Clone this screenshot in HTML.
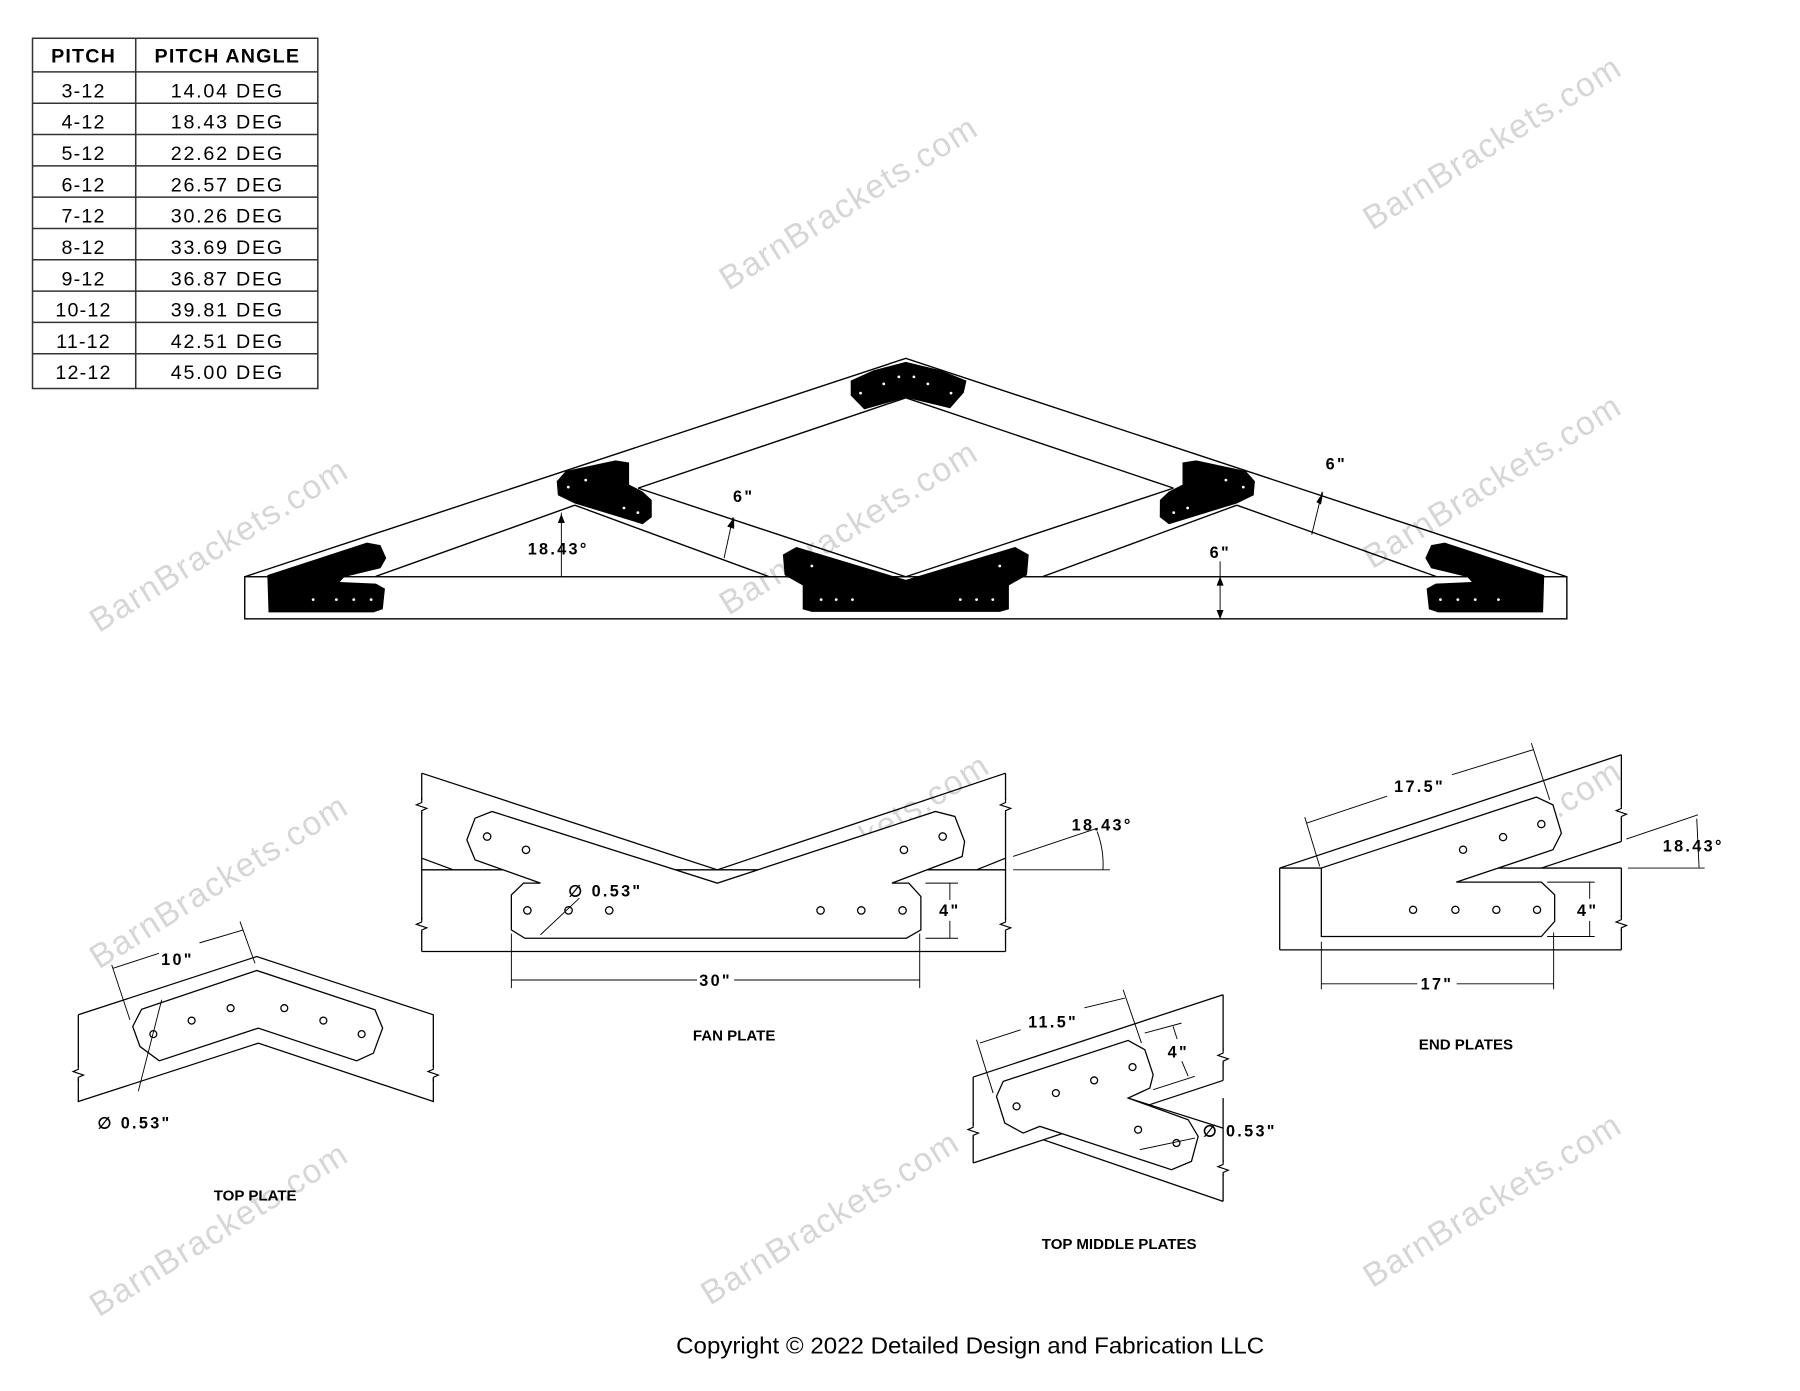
<!DOCTYPE html>
<html><head><meta charset="utf-8"><style>
html,body{margin:0;padding:0;background:#fff;}
svg{display:block;}
text{font-family:"Liberation Sans",sans-serif;}
.t{font-size:17px;}
.wm{font-size:29px;fill:#d6d6d6;}
.lbl{font-size:13px;font-weight:bold;}
.dim{font-size:14px;font-weight:bold;letter-spacing:2px;}
</style></head><body>
<svg width="1800" height="1391" viewBox="0 0 1552 1199.4" xmlns="http://www.w3.org/2000/svg">
<rect width="1552" height="1200" fill="#fff"/>
<!-- watermarks -->
<g class="wm" text-anchor="middle">
<text x="731" y="185" transform="rotate(-32 731 175)" textLength="255">BarnBrackets.com</text>
<text x="1286" y="133" transform="rotate(-32 1286 123)" textLength="255">BarnBrackets.com</text>
<text x="188" y="480" transform="rotate(-32 188 470)" textLength="255">BarnBrackets.com</text>
<text x="731" y="465" transform="rotate(-32 731 455)" textLength="255">BarnBrackets.com</text>
<text x="1286" y="425" transform="rotate(-32 1286 415)" textLength="255">BarnBrackets.com</text>
<text x="188" y="770" transform="rotate(-32 188 760)" textLength="255">BarnBrackets.com</text>
<text x="741" y="735" transform="rotate(-32 741 725)" textLength="255">BarnBrackets.com</text>
<text x="1286" y="740" transform="rotate(-32 1286 730)" textLength="255">BarnBrackets.com</text>
<text x="188" y="1070" transform="rotate(-32 188 1060)" textLength="255">BarnBrackets.com</text>
<text x="715" y="1060" transform="rotate(-32 715 1050)" textLength="255">BarnBrackets.com</text>
<text x="1286" y="1045" transform="rotate(-32 1286 1035)" textLength="255">BarnBrackets.com</text>
</g>

<!-- table -->
<g stroke="#333" stroke-width="1.3" fill="none">
<rect x="28" y="33" width="246" height="302"/>
<line x1="117" y1="33" x2="117" y2="335"/>
<line x1="28" y1="62" x2="274" y2="62"/>
<line x1="28" y1="89" x2="274" y2="89"/>
<line x1="28" y1="116" x2="274" y2="116"/>
<line x1="28" y1="143" x2="274" y2="143"/>
<line x1="28" y1="170" x2="274" y2="170"/>
<line x1="28" y1="197" x2="274" y2="197"/>
<line x1="28" y1="224" x2="274" y2="224"/>
<line x1="28" y1="251" x2="274" y2="251"/>
<line x1="28" y1="278" x2="274" y2="278"/>
<line x1="28" y1="305" x2="274" y2="305"/>
</g>
<g class="t" text-anchor="middle">
<text x="72" y="54" font-weight="bold" letter-spacing="1">PITCH</text>
<text x="196" y="54" font-weight="bold" letter-spacing="1">PITCH ANGLE</text>
<text x="72" y="84" letter-spacing="1">3-12</text><text x="196" y="84" letter-spacing="1.5">14.04 DEG</text>
<text x="72" y="111" letter-spacing="1">4-12</text><text x="196" y="111" letter-spacing="1.5">18.43 DEG</text>
<text x="72" y="138" letter-spacing="1">5-12</text><text x="196" y="138" letter-spacing="1.5">22.62 DEG</text>
<text x="72" y="165" letter-spacing="1">6-12</text><text x="196" y="165" letter-spacing="1.5">26.57 DEG</text>
<text x="72" y="192" letter-spacing="1">7-12</text><text x="196" y="192" letter-spacing="1.5">30.26 DEG</text>
<text x="72" y="219" letter-spacing="1">8-12</text><text x="196" y="219" letter-spacing="1.5">33.69 DEG</text>
<text x="72" y="246" letter-spacing="1">9-12</text><text x="196" y="246" letter-spacing="1.5">36.87 DEG</text>
<text x="72" y="273" letter-spacing="1">10-12</text><text x="196" y="273" letter-spacing="1.5">39.81 DEG</text>
<text x="72" y="300" letter-spacing="1">11-12</text><text x="196" y="300" letter-spacing="1.5">42.51 DEG</text>
<text x="72" y="327" letter-spacing="1">12-12</text><text x="196" y="327" letter-spacing="1.5">45.00 DEG</text>
</g>

<!-- truss -->
<g stroke="#000" stroke-width="1.2" fill="none">
<rect x="211" y="497.3" width="1140" height="36.3"/>
<polyline points="211,497.3 781,309 1351,497.3"/>
<line x1="324" y1="497" x2="495.6" y2="435.6"/>
<line x1="550.2" y1="420.9" x2="781" y2="343"/>
<line x1="1238" y1="497" x2="1066.4" y2="435.6"/>
<line x1="1011.8" y1="420.9" x2="781" y2="343"/>
<line x1="495.6" y1="435.6" x2="663.3" y2="497.3"/>
<line x1="550.2" y1="420.9" x2="781" y2="497.3"/>
<line x1="1066.4" y1="435.6" x2="898.7" y2="497.3"/>
<line x1="1011.8" y1="420.9" x2="781" y2="497.3"/>
<!-- dims -->
<line x1="484" y1="497" x2="484" y2="442" stroke-width="0.8"/>
<line x1="624.3" y1="481.2" x2="632" y2="446" stroke-width="0.8"/>
<line x1="1131" y1="461" x2="1140" y2="424" stroke-width="0.8"/>
<line x1="1052" y1="484" x2="1052" y2="534" stroke-width="0.8"/>
</g>
<g fill="#000">
<polygon points="481,443 484,451 487,443" transform="rotate(180 484 447)"/>
<polygon points="1049,505 1052,497 1055,505"/>
<polygon points="1049,526 1052,534 1055,526"/>
<polygon points="627,454 633,446 633,456"/>
<polygon points="1135,433 1141,424 1139,435"/>
<!-- plates -->
<polygon points="733.5,328.2 753,319.4 781,312 811.4,319.4 833.3,328.2 831,338.5 819.2,352 781,342.9 745.2,353 733.5,341"/>
<polygon points="480,415 487.8,406.1 530.7,397 542.4,398.8 542.4,417.9 554.1,423.8 561.9,431.1 562,445.9 554.1,452 495.6,434.1 481,427"/>
<polygon points="1082,415 1074.2,406.1 1031.3,397 1019.6,398.8 1019.6,417.9 1007.9,423.8 1000.1,431.1 1000,445.9 1007.9,452 1066.4,434.1 1081,427"/>
<polygon points="675,478.2 686.7,471.7 781,500 875.3,471.7 887,478.2 885.5,495.9 869.9,504.7 869.9,525.3 862.1,527.6 699.9,527.6 692.1,525.3 692.1,504.7 676.5,495.9"/>
<polygon points="230.5,495.9 316.3,467.9 328,470 333,481.2 328,490 296.8,497.5 292.9,501.8 324.1,503.2 331.9,507.6 330,525.3 322,528 231.5,528"/>
<polygon points="1331.5,495.9 1245.7,467.9 1234,470 1229,481.2 1234,490 1265.2,497.5 1269.1,501.8 1237.9,503.2 1230.1,507.6 1232,525.3 1240,528 1330.5,528"/>
</g>
<g fill="#fff">
<circle cx="742" cy="339" r="1.2"/><circle cx="762" cy="331" r="1.2"/><circle cx="775" cy="325" r="1.2"/><circle cx="788" cy="325" r="1.2"/><circle cx="800" cy="331" r="1.2"/><circle cx="820" cy="339" r="1.2"/>
<circle cx="708" cy="517" r="1.2"/><circle cx="721" cy="517" r="1.2"/><circle cx="735" cy="517" r="1.2"/><circle cx="828" cy="517" r="1.2"/><circle cx="842" cy="517" r="1.2"/><circle cx="856" cy="517" r="1.2"/>
<circle cx="700" cy="488" r="1.2"/><circle cx="862" cy="488" r="1.2"/>
<circle cx="270" cy="517" r="1.2"/><circle cx="290" cy="517" r="1.2"/><circle cx="305" cy="517" r="1.2"/><circle cx="320" cy="517" r="1.2"/>
<circle cx="1242" cy="517" r="1.2"/><circle cx="1257" cy="517" r="1.2"/><circle cx="1272" cy="517" r="1.2"/><circle cx="1292" cy="517" r="1.2"/>
<circle cx="490" cy="420" r="1.2"/><circle cx="505" cy="414" r="1.2"/><circle cx="538" cy="438" r="1.2"/><circle cx="550" cy="442" r="1.2"/>
<circle cx="1072" cy="420" r="1.2"/><circle cx="1057" cy="414" r="1.2"/><circle cx="1024" cy="438" r="1.2"/><circle cx="1012" cy="442" r="1.2"/>
</g>
<g class="dim" font-size="13">
<text x="455" y="478">18.43°</text>
<text x="632" y="433">6"</text>
<text x="1143" y="405">6"</text>
<text x="1043" y="481">6"</text>
</g>

<!-- TOP PLATE detail -->
<g stroke="#000" stroke-width="1.1" fill="none">
<polyline points="67.5,875 221.3,824.8 373.6,875 373.6,949.8 222.7,899.5 67.5,949.8 67.5,875"/>
<polygon fill="#fff" points="122.1,870.2 114.4,885.1 120.7,902.4 137.3,914.7 222.7,886.5 307.5,914.7 321.9,908.1 329.9,886.5 323.3,870.7 221.3,836.8"/>
<circle cx="132.2" cy="891.7" r="3"/><circle cx="165.2" cy="880" r="3"/><circle cx="198.8" cy="869.3" r="3"/><circle cx="245.1" cy="869.3" r="3"/><circle cx="278.8" cy="880" r="3"/><circle cx="311.8" cy="891.7" r="3"/>
<line x1="96.3" y1="832" x2="112" y2="879.4" stroke-width="0.8"/>
<line x1="206.9" y1="794.6" x2="219.8" y2="830.5" stroke-width="0.8"/>
<polyline points="97.7,834.8 137,822" stroke-width="0.8"/>
<polyline points="172,813 209.8,801.8" stroke-width="0.8"/>
<line x1="119.2" y1="941" x2="139.4" y2="862" stroke-width="0.8"/>
</g>
<g stroke="#fff" stroke-width="3"><line x1="67.5" y1="920" x2="67.5" y2="930"/><line x1="373.6" y1="920" x2="373.6" y2="930"/></g>
<g stroke="#000" stroke-width="1" fill="none"><polyline points="67.5,918 67.5,922 63,924 72,927 67.5,929 67.5,932"/><polyline points="373.6,918 373.6,922 369,924 378,927 373.6,929 373.6,932"/></g>
<g class="dim"><text x="153" y="832" text-anchor="middle">10"</text><text x="84" y="973">∅ 0.53"</text></g>
<text x="220" y="1035" class="lbl" text-anchor="middle">TOP PLATE</text>

<!-- FAN PLATE detail -->
<g stroke="#000" stroke-width="1.1" fill="none">
<polyline points="363.6,666.7 618.5,750 867,666.7"/>
<line x1="363.6" y1="666.7" x2="363.6" y2="820.4"/>
<line x1="867" y1="666.7" x2="867" y2="820.4"/>
<line x1="363.6" y1="820.4" x2="867" y2="820.4"/>
<line x1="363.6" y1="750" x2="867" y2="750"/>
<line x1="363.6" y1="740" x2="390.8" y2="750"/>
<line x1="867" y1="740" x2="842" y2="750"/>
<polygon fill="#fff" points="424.2,699.7 409.6,705.5 402.5,724.2 409.6,741.4 466,761.5 451.4,761.5 440.9,771.6 440.9,801.8 452.6,809 781.5,809 794,801.8 794,773 783.6,761.5 769,761.5 829.6,738.5 831.7,725.6 823.3,704 806.6,699.7 618.5,761.5"/>
<circle cx="420" cy="721.3" r="3.2"/><circle cx="453.5" cy="732.8" r="3.2"/><circle cx="779.4" cy="732.8" r="3.2"/><circle cx="812.8" cy="721.3" r="3.2"/>
<circle cx="454.7" cy="785" r="3.2"/><circle cx="490.2" cy="785" r="3.2"/><circle cx="525.3" cy="785" r="3.2"/><circle cx="707.5" cy="785" r="3.2"/><circle cx="742.6" cy="785" r="3.2"/><circle cx="778.2" cy="785" r="3.2"/>
<g stroke-width="0.8">
<line x1="440.9" y1="805" x2="440.9" y2="852"/><line x1="793" y1="805" x2="793" y2="852"/>
<line x1="440.9" y1="845" x2="601" y2="845"/><line x1="633" y1="845" x2="793" y2="845"/>
<line x1="798" y1="761.5" x2="826" y2="761.5"/><line x1="798" y1="809" x2="826" y2="809"/>
<line x1="819" y1="761.5" x2="819" y2="776"/><line x1="819" y1="794" x2="819" y2="809"/>
<line x1="873.5" y1="750" x2="957" y2="750"/><line x1="873.5" y1="738.5" x2="946.5" y2="714"/>
<path d="M 946 717 Q 952 733 951 750"/>
<line x1="466" y1="806" x2="499.5" y2="774.5"/>
</g>
</g>
<g stroke="#fff" stroke-width="3"><line x1="363.6" y1="690" x2="363.6" y2="700"/><line x1="363.6" y1="793" x2="363.6" y2="803"/><line x1="867" y1="690" x2="867" y2="700"/><line x1="867" y1="793" x2="867" y2="803"/></g>
<g stroke="#000" stroke-width="1" fill="none">
<polyline points="363.6,688 363.6,692 359,694 368,697 363.6,699 363.6,702"/><polyline points="363.6,791 363.6,795 359,797 368,800 363.6,802 363.6,805"/>
<polyline points="867,688 867,692 862.5,694 871.5,697 867,699 867,702"/><polyline points="867,791 867,795 862.5,797 871.5,800 867,802 867,805"/>
</g>
<g class="dim"><text x="617" y="850" text-anchor="middle">30"</text><text x="819" y="790" text-anchor="middle">4"</text><text x="924" y="716">18.43°</text><text x="490" y="773">∅ 0.53"</text></g>
<text x="633" y="897" class="lbl" text-anchor="middle">FAN PLATE</text>

<!-- END PLATES detail -->
<g stroke="#000" stroke-width="1.1" fill="none">
<line x1="1103.4" y1="748.5" x2="1398" y2="650.8"/>
<line x1="1103.4" y1="748.5" x2="1139.3" y2="748.5"/>
<line x1="1103.4" y1="748.5" x2="1103.4" y2="819"/>
<line x1="1103.4" y1="819" x2="1398" y2="819"/>
<line x1="1398" y1="650.8" x2="1398" y2="725.6"/>
<line x1="1398" y1="748.5" x2="1398" y2="819"/>
<line x1="1288.8" y1="748.5" x2="1398" y2="748.5"/>
<line x1="1329" y1="748.5" x2="1398" y2="725.6"/>
<polygon fill="#fff" points="1324.7,687.3 1339,694 1346.3,718.4 1339,732.7 1255.7,760.6 1329,760.6 1340.5,771.5 1340.5,794.5 1329,807.5 1139.3,807.5 1139.3,748.5"/>
<circle cx="1329" cy="710.6" r="3.1"/><circle cx="1296" cy="721.8" r="3.1"/><circle cx="1261.5" cy="732.7" r="3.1"/>
<circle cx="1218.4" cy="784.5" r="3.1"/><circle cx="1254.9" cy="784.5" r="3.1"/><circle cx="1290.2" cy="784.5" r="3.1"/><circle cx="1325.3" cy="784.5" r="3.1"/>
<g stroke-width="0.8">
<line x1="1125" y1="704.6" x2="1137.9" y2="747"/><line x1="1320.4" y1="640.8" x2="1336.2" y2="689.6"/>
<line x1="1126.4" y1="709.8" x2="1196" y2="686.5"/><line x1="1252" y1="668" x2="1321.8" y2="646.5"/>
<line x1="1403.7" y1="748.5" x2="1469.8" y2="748.5"/><line x1="1402.3" y1="723.5" x2="1464" y2="702.6"/>
<line x1="1463" y1="706" x2="1465" y2="748"/>
<line x1="1334" y1="760.6" x2="1375" y2="760.6"/><line x1="1334" y1="807.5" x2="1375" y2="807.5"/>
<line x1="1370.7" y1="760.6" x2="1370.7" y2="775"/><line x1="1370.7" y1="794" x2="1370.7" y2="807.5"/>
<line x1="1139.3" y1="812" x2="1139.3" y2="853"/><line x1="1339.6" y1="804" x2="1339.6" y2="853"/>
<line x1="1139.3" y1="848.3" x2="1222" y2="848.3"/><line x1="1256" y1="848.3" x2="1339.6" y2="848.3"/>
</g>
</g>
<g stroke="#fff" stroke-width="3"><line x1="1398" y1="695" x2="1398" y2="705"/><line x1="1398" y1="791" x2="1398" y2="801"/></g>
<g stroke="#000" stroke-width="1" fill="none">
<polyline points="1398,693 1398,697 1393.5,699 1402.5,702 1398,704 1398,707"/><polyline points="1398,789 1398,793 1393.5,795 1402.5,798 1398,800 1398,803"/>
</g>
<g class="dim"><text x="1224" y="683" text-anchor="middle">17.5"</text><text x="1460" y="734" text-anchor="middle">18.43°</text><text x="1369" y="790" text-anchor="middle">4"</text><text x="1239" y="853" text-anchor="middle">17"</text></g>
<text x="1264" y="905" class="lbl" text-anchor="middle">END PLATES</text>

<!-- TOP MIDDLE PLATES detail -->
<g stroke="#000" stroke-width="1.1" fill="none">
<line x1="839.1" y1="928.7" x2="1054.6" y2="857.7"/>
<line x1="839.1" y1="928.7" x2="839.1" y2="1002.8"/>
<line x1="839.1" y1="1002.8" x2="1054.6" y2="931.6"/>
<line x1="1054.6" y1="857.7" x2="1054.6" y2="931.6"/>
<line x1="972.7" y1="946.8" x2="1054.6" y2="972.7"/>
<line x1="899.4" y1="982.7" x2="1054.6" y2="1035.9"/>
<line x1="1054.6" y1="946.8" x2="1054.6" y2="1035.9"/>
<polygon fill="#fff" points="859.2,945.4 865,932.4 972.7,897.1 987.1,905.1 994.3,926.7 991.4,938.2 972.7,946.8 1024.5,965.5 1033.1,979.9 1027.3,1001.4 1010.1,1008.6 896.6,971.2 882.2,977 866.4,968.4"/>
<circle cx="876.5" cy="954" r="3"/><circle cx="910.4" cy="942.5" r="3"/><circle cx="943.4" cy="931.6" r="3"/><circle cx="976.5" cy="920.1" r="3"/><circle cx="981.3" cy="974.1" r="3"/><circle cx="1014.4" cy="985.6" r="3"/>
<g stroke-width="0.8">
<line x1="842" y1="896.5" x2="856.3" y2="942.5"/><line x1="968.4" y1="853.4" x2="984.2" y2="899.4"/>
<line x1="844.8" y1="899.4" x2="880" y2="888"/><line x1="935" y1="869" x2="969.9" y2="860.6"/>
<line x1="987" y1="890.8" x2="1018.7" y2="882.2"/><line x1="994.3" y1="939.6" x2="1030.2" y2="928.1"/>
<line x1="1011.5" y1="885" x2="1015" y2="896"/><line x1="1019" y1="915" x2="1024.5" y2="928.1"/>
<line x1="982.8" y1="991.3" x2="1030.2" y2="981.3"/>
</g>
</g>
<g stroke="#fff" stroke-width="3"><line x1="839.1" y1="970" x2="839.1" y2="980"/><line x1="1054.6" y1="906" x2="1054.6" y2="916"/><line x1="1054.6" y1="1002" x2="1054.6" y2="1012"/></g>
<g stroke="#000" stroke-width="1" fill="none">
<polyline points="839.1,968 839.1,972 834.6,974 843.6,977 839.1,979 839.1,982"/>
<polyline points="1054.6,904 1054.6,908 1050.1,910 1059.1,913 1054.6,915 1054.6,918"/>
<polyline points="1054.6,1000 1054.6,1004 1050.1,1006 1059.1,1009 1054.6,1011 1054.6,1014"/>
</g>
<g class="dim"><text x="908" y="886" text-anchor="middle">11.5"</text><text x="1016" y="912" text-anchor="middle">4"</text><text x="1037" y="980">∅ 0.53"</text></g>
<text x="965" y="1077" class="lbl" text-anchor="middle">TOP MIDDLE PLATES</text>

<text x="583" y="1167" font-size="20" textLength="507" lengthAdjust="spacingAndGlyphs">Copyright © 2022 Detailed Design and Fabrication LLC</text>
</svg>
</body></html>
